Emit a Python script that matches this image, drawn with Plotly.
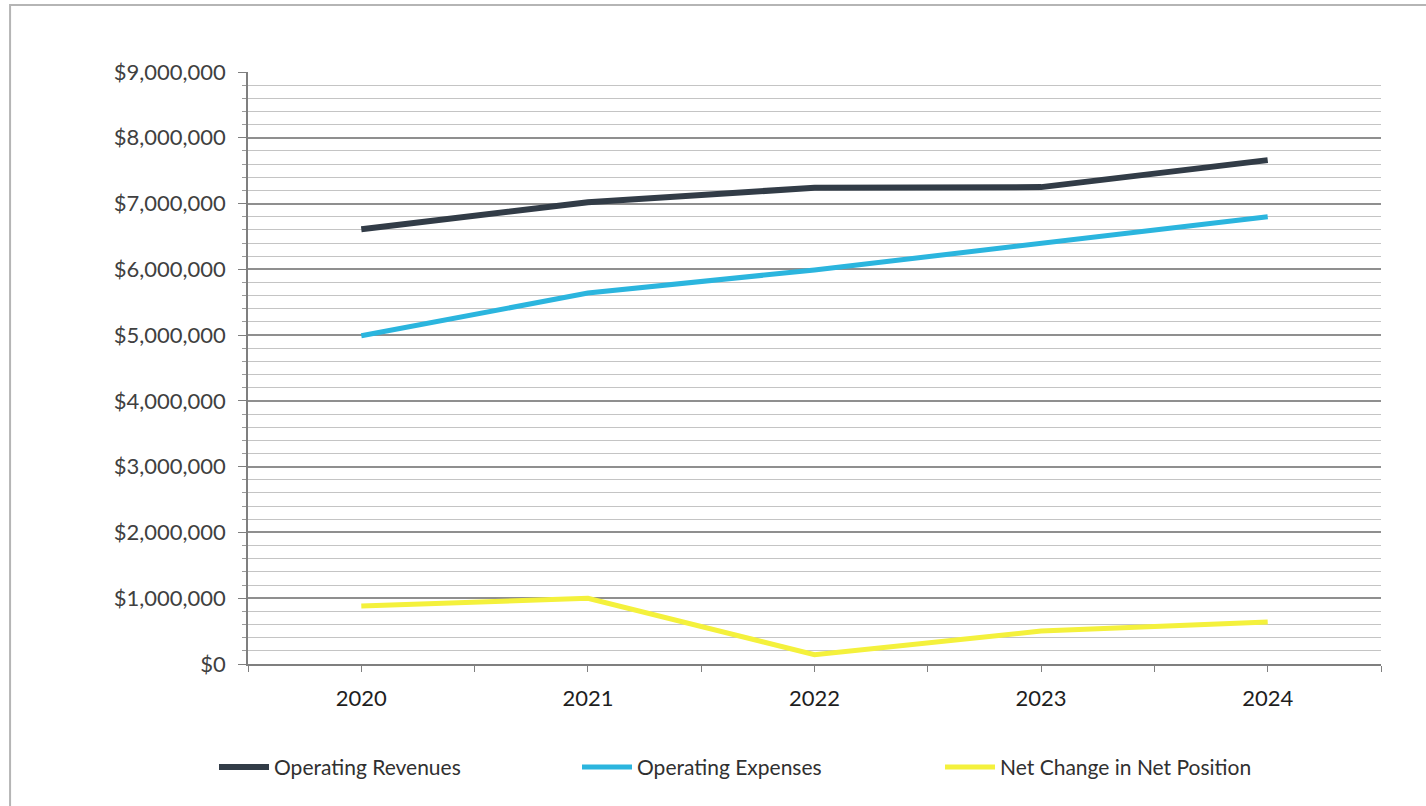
import plotly.graph_objects as go

# Fiscal years and the three financial series (US dollars)
years = [2020, 2021, 2022, 2023, 2024]
operating_revenues = [6610000, 7020000, 7240000, 7250000, 7660000]
operating_expenses = [4990000, 5640000, 5990000, 6400000, 6800000]
net_change_in_net_position = [880000, 1000000, 140000, 500000, 640000]

series_names = ["Operating Revenues", "Operating Expenses", "Net Change in Net Position"]
series_colors = ["#323c47", "#2bb5de", "#f4f13c"]
series_widths = [6, 5, 5]

fig = go.Figure()
for name, values, color, width in zip(
    series_names,
    [operating_revenues, operating_expenses, net_change_in_net_position],
    series_colors,
    series_widths,
):
    fig.add_trace(
        go.Scatter(
            x=years,
            y=values,
            mode="lines",
            name=name,
            line=dict(color=color, width=width),
        )
    )

font_family = "Lato, 'Open Sans', sans-serif"

fig.update_layout(
    width=1426,
    height=806,
    margin=dict(l=248, r=45, t=72, b=142),
    paper_bgcolor="white",
    plot_bgcolor="white",
    font=dict(family=font_family, size=21, color="#404040"),
    showlegend=True,
    legend=dict(
        orientation="h",
        x=-0.03,
        y=-0.14,
        xanchor="left",
        yanchor="top",
        entrywidth=298,
        entrywidthmode="pixels",
        font=dict(size=21, color="#303030"),
        itemwidth=50,
    ),
    shapes=[
        # outer frame around the chart area
        dict(
            type="path",
            xref="paper",
            yref="paper",
            path="M -0.21,-0.26 L -0.21,1.1132 L 1.1,1.1132",
            line=dict(color="#b5b5b5", width=2),
            layer="below",
        )
    ],
)

fig.update_xaxes(
    range=[2019.5, 2024.5],
    tickvals=years,
    ticktext=[str(y) for y in years],
    showgrid=False,
    zeroline=False,
    showline=True,
    linecolor="#7f7f7f",
    linewidth=1.5,
    ticks="outside",
    ticklen=6,
    tickcolor="#7f7f7f",
    tickfont=dict(size=22, color="#1e1e1e"),
    ticklabelstandoff=8,
    minor=dict(
        tick0=2019.5,
        dtick=1,
        ticks="outside",
        ticklen=6,
        tickcolor="#7f7f7f",
        showgrid=False,
    ),
)

fig.update_yaxes(
    range=[0, 9000000],
    dtick=1000000,
    tickprefix="$",
    tickformat=",d",
    showgrid=True,
    gridcolor="#8f8f8f",
    gridwidth=1.5,
    zeroline=False,
    showline=True,
    linecolor="#7f7f7f",
    linewidth=1.5,
    ticks="outside",
    ticklen=8,
    tickcolor="#7f7f7f",
    tickfont=dict(size=22, color="#404040"),
    ticklabelstandoff=8,
    minor=dict(
        dtick=200000,
        showgrid=True,
        gridcolor="#c4c4c4",
        gridwidth=1,
        ticks="outside",
        ticklen=4,
        tickcolor="#9a9a9a",
    ),
)

fig.write_html("out.html")
